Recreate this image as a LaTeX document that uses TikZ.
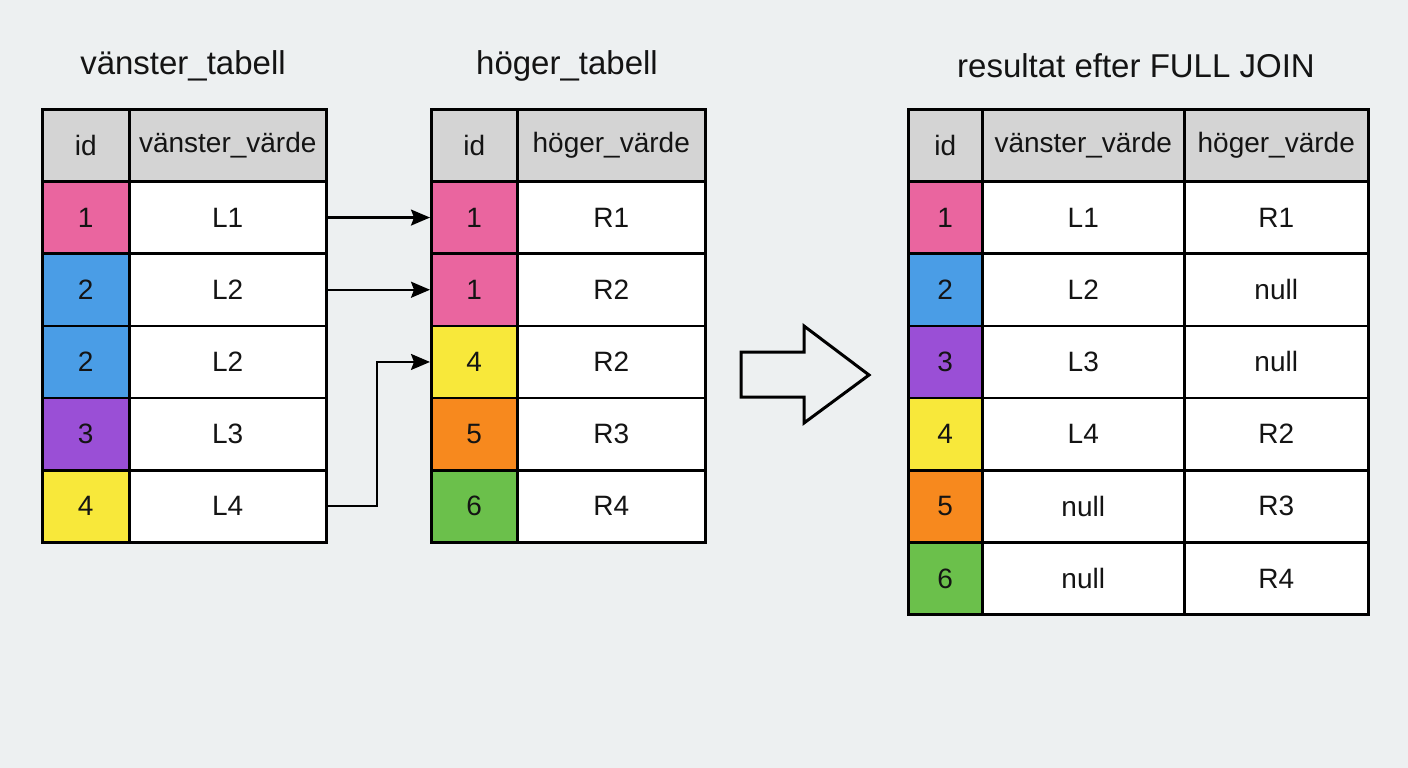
\documentclass[tikz,border=0pt]{standalone}
\usepackage{fontspec}
\setmainfont{Liberation Sans}
\usetikzlibrary{arrows.meta}
\definecolor{bg}{HTML}{EDF0F1}
\definecolor{hdr}{HTML}{D4D4D4}
\definecolor{cpink}{HTML}{EA659F}
\definecolor{cblue}{HTML}{4A9DE6}
\definecolor{cpurple}{HTML}{9A4FD6}
\definecolor{cyellow}{HTML}{F8E83A}
\definecolor{corange}{HTML}{F7891E}
\definecolor{cgreen}{HTML}{6BC04B}
\tikzset{
  cell/.style={draw=black, line width=2.5pt, rectangle, anchor=north west, inner sep=0pt,
    minimum height=72.2pt, font=\fontsize{28}{30}\selectfont, text=black!92},
  title/.style={font=\fontsize{33}{36}\selectfont, text=black!92},
  link/.style={line width=2.2pt, -{Stealth[length=19pt,width=16pt,inset=3pt]}},
}
\begin{document}
\begin{tikzpicture}[x=1pt,y=-1pt]
\fill[bg] (0,0) rectangle (1408,768);
\useasboundingbox (0,0) rectangle (1408,768);

% titles
\node[title] (t1) at (183,66) {vänster\_tabell};
\node[title] (t2) at (567,66) {höger\_tabell};
\node[title] (t3) at (1136,66) {resultat efter FULL JOIN};

% left table
\node[cell, fill=hdr, minimum width=87pt] (Lh1) at (41,108) {id};
\node[cell, fill=hdr, minimum width=197pt] (Lh2) at (128,108) {vänster\_värde};
\foreach \i/\c/\n/\v in {1/cpink/1/L1, 2/cblue/2/L2, 3/cblue/2/L2, 4/cpurple/3/L3, 5/cyellow/4/L4}{
  \node[cell, fill=\c, minimum width=87pt] (Li\i) at (41,{108+72.2*\i}) {\n};
  \node[cell, fill=white, minimum width=197pt] (Lv\i) at (128,{108+72.2*\i}) {\v};
}

% middle table
\node[cell, fill=hdr, minimum width=86pt] (Rh1) at (430,108) {id};
\node[cell, fill=hdr, minimum width=188pt] (Rh2) at (516,108) {höger\_värde};
\foreach \i/\c/\n/\v in {1/cpink/1/R1, 2/cpink/1/R2, 3/cyellow/4/R2, 4/corange/5/R3, 5/cgreen/6/R4}{
  \node[cell, fill=\c, minimum width=86pt] (Ri\i) at (430,{108+72.2*\i}) {\n};
  \node[cell, fill=white, minimum width=188pt] (Rv\i) at (516,{108+72.2*\i}) {\v};
}

% result table
\node[cell, fill=hdr, minimum width=74pt] (Xh1) at (907,108) {id};
\node[cell, fill=hdr, minimum width=202pt] (Xh2) at (981,108) {vänster\_värde};
\node[cell, fill=hdr, minimum width=184pt] (Xh3) at (1183,108) {höger\_värde};
\foreach \i/\c/\n/\a/\b in {1/cpink/1/L1/R1, 2/cblue/2/L2/null, 3/cpurple/3/L3/null, 4/cyellow/4/L4/R2, 5/corange/5/null/R3, 6/cgreen/6/null/R4}{
  \node[cell, fill=\c, minimum width=74pt] (Xi\i) at (907,{108+72.2*\i}) {\n};
  \node[cell, fill=white, minimum width=202pt] (Xa\i) at (981,{108+72.2*\i}) {\a};
  \node[cell, fill=white, minimum width=184pt] (Xb\i) at (1183,{108+72.2*\i}) {\b};
}

% connectors
\draw[link] (Lv1.east) -- (Ri1.west);
\draw[link] (Lv2.east) -- (Ri2.west);
\coordinate (bend) at (377,0);
\draw[link] (Lv5.east) -- (Lv5.east -| bend) -- (Ri3.west -| bend) -- (Ri3.west);

% big hollow arrow
\draw[line width=3pt, line join=miter, fill=bg] (741,352) -- (804,352) -- (804,326) -- (869,375) -- (804,423) -- (804,397) -- (741,397) -- cycle;
\end{tikzpicture}
\end{document}
